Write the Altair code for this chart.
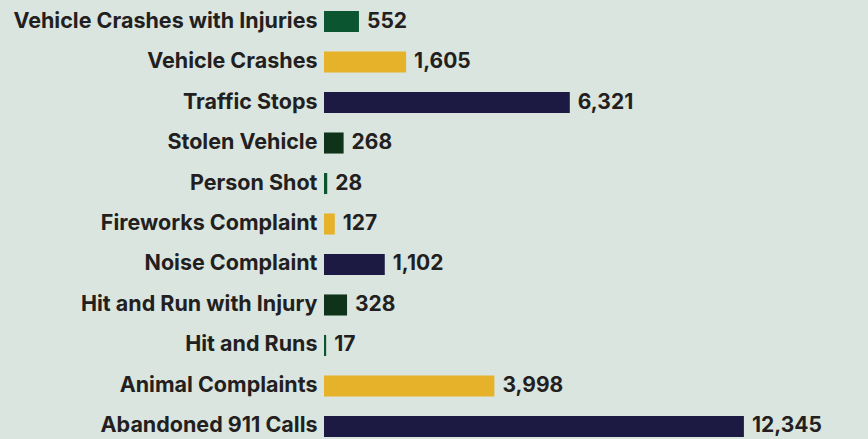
import altair as alt
import pandas as pd

categories = [
    "Vehicle Crashes with Injuries",
    "Vehicle Crashes",
    "Traffic Stops",
    "Stolen Vehicle",
    "Person Shot",
    "Fireworks Complaint",
    "Noise Complaint",
    "Hit and Run with Injury",
    "Hit and Runs",
    "Animal Complaints",
    "Abandoned 911 Calls",
]
values = [552, 1605, 6321, 268, 28, 127, 1102, 328, 17, 3998, 12345]
colors = [
    "#0b5530", "#e5b22a", "#1c1a42", "#0e3318", "#0b5530", "#e5b22a",
    "#1c1a42", "#0e3318", "#0b5530", "#e5b22a", "#1c1a42",
]

BG = "#dae5df"
FONT = "Inter"
TEXT = "#231f20"

# Paint the page body with the chart's background so the 8px margin matches.
try:
    from altair.utils import html as _h

    class _BgTemplate:
        def __init__(self, base):
            self.base = base

        def render(self, *args, **kwargs):
            out = self.base.render(*args, **kwargs)
            return out.replace(
                "<head>",
                "<head><style>html,body{background:" + BG + ";}</style>",
                1,
            )

    _h.TEMPLATES["standard"] = _BgTemplate(_h.TEMPLATES["standard"])
except Exception:
    pass

df = pd.DataFrame({"category": categories, "value": values, "color": colors})

y = alt.Y(
    "category:N",
    sort=categories,
    title=None,
    scale=alt.Scale(paddingInner=0.48, paddingOuter=0),
    axis=alt.Axis(
        ticks=False,
        domain=False,
        labelFont=FONT,
        labelFontSize=21.5,
        labelFontWeight="bold",
        labelColor=TEXT,
        labelPadding=7,
        labelLimit=400,
    ),
)
x = alt.X(
    "value:Q",
    title=None,
    axis=None,
    scale=alt.Scale(type="pow", exponent=0.8, domain=[0, 16750], zero=True),
)

bars = alt.Chart(df).mark_bar().encode(
    x=x, y=y, color=alt.Color("color:N", scale=None)
)
labels = alt.Chart(df).mark_text(
    align="left", baseline="middle", dx=8, font=FONT, fontSize=21,
    fontWeight="bold", color=TEXT,
).encode(x=x, y=y, text=alt.Text("value:Q", format=","))

chart = (
    (bars + labels)
    .properties(
        width=536,
        height=426,
        background=BG,
        padding={"left": 316, "top": 3, "right": 0, "bottom": 0},
        autosize=alt.AutoSizeParams(type="none"),
    )
    .configure_view(stroke=None)
)

chart.save("out.html", embed_options={"renderer": "svg", "actions": False})
